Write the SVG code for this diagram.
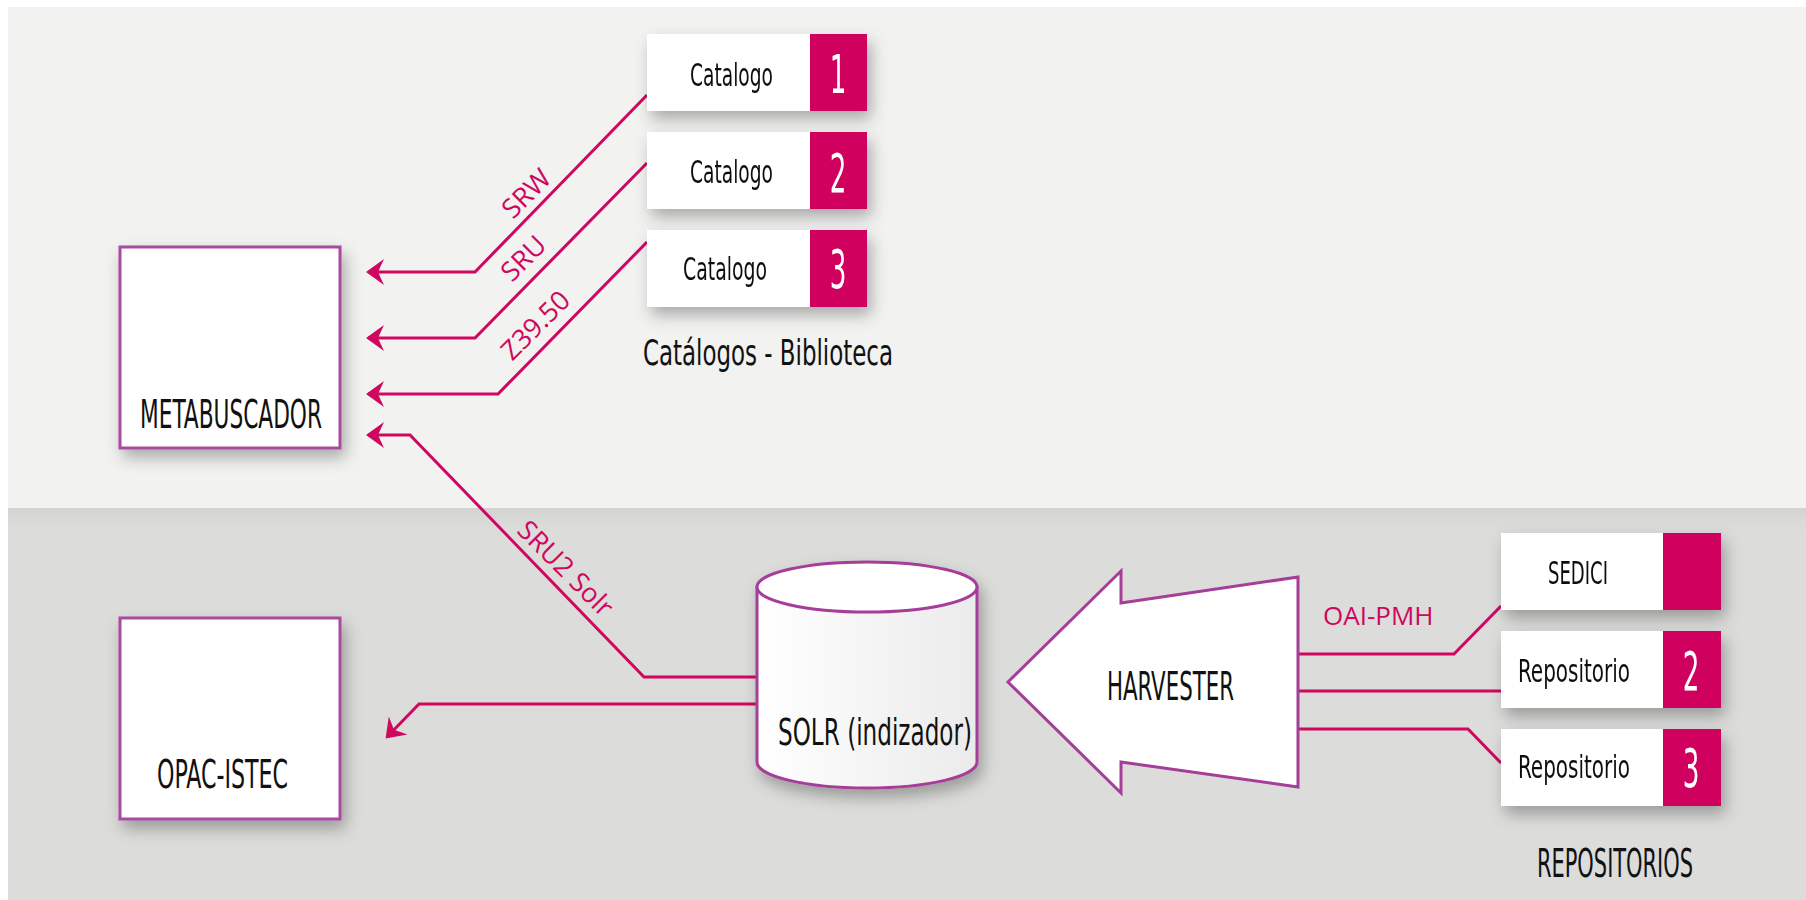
<svg xmlns="http://www.w3.org/2000/svg" width="1806" height="900" viewBox="0 0 1806 900">
  <defs>
    <style>
      .cond { font-family: 'Liberation Sans Narrow', 'DejaVu Sans Condensed', 'Liberation Sans', sans-serif; fill: #111111; }
      .num { font-family: 'Liberation Sans Narrow', 'DejaVu Sans Condensed', 'Liberation Sans', sans-serif; fill: #ffffff; font-size: 53px; text-anchor: middle; }
      .lbl { font-family: 'Open Sans', 'Liberation Sans', sans-serif; fill: #d0075f; font-size: 27px; }
      .conn { fill: none; stroke: #d0075f; stroke-width: 3; stroke-linejoin: miter; }
      .arrowed { marker-end: url(#arrow); }
      .box { fill: #ffffff; stroke: #a9489f; stroke-width: 3; }
      .white { fill: #ffffff; }
      .mag { fill: #d0005f; }
      .shape { stroke: #a63d98; stroke-width: 3; }
    </style>
    <filter id="shadow" x="-30%" y="-30%" width="160%" height="170%">
      <feDropShadow dx="4" dy="8" stdDeviation="8" flood-color="#000000" flood-opacity="0.3"/>
    </filter>
    <linearGradient id="cyl" x1="0" y1="0" x2="1" y2="0">
      <stop offset="0" stop-color="#ffffff"/>
      <stop offset="1" stop-color="#ebebeb"/>
    </linearGradient>
    <linearGradient id="bandShade" x1="0" y1="0" x2="0" y2="1">
      <stop offset="0" stop-color="#d2d2d1"/>
      <stop offset="1" stop-color="#dcdcdb" stop-opacity="0"/>
    </linearGradient>
    <marker id="arrow" viewBox="-20 -15 24 30" refX="0" refY="0" markerWidth="24" markerHeight="30" markerUnits="userSpaceOnUse" orient="auto">
      <path d="M 2 0 L -16 -13 L -10 0 L -16 13 Z" fill="#d0075f"/>
    </marker>
  </defs>

  <!-- background bands -->
  <rect x="0" y="0" width="1806" height="900" fill="#ffffff"/>
  <rect x="8" y="7" width="1798" height="501" fill="#f2f2f1"/>
  <rect x="8" y="508" width="1798" height="392" fill="#dcdcdb"/>
  <rect x="8" y="508" width="1798" height="30" fill="url(#bandShade)"/>

  <!-- connectors -->
  <g id="connectors">
    <path class="conn arrowed" d="M 647 95 L 475 272 L 368 272"/>
    <path class="conn arrowed" d="M 647 163 L 475 338 L 368 338"/>
    <path class="conn arrowed" d="M 647 242 L 498 394 L 368 394"/>
    <path class="conn arrowed" d="M 757 677 L 644 677 L 410 435 L 368 435"/>
    <path class="conn arrowed" d="M 757 704 L 419 704 L 387 737"/>
    <path class="conn" d="M 1298 654 L 1454 654 L 1501 606"/>
    <path class="conn" d="M 1298 691 L 1501 691"/>
    <path class="conn" d="M 1298 729 L 1468 729 L 1501 763"/>
    <text class="lbl" text-anchor="middle" transform="translate(533,200) rotate(-45)">SRW</text>
    <text class="lbl" text-anchor="middle" transform="translate(530,265) rotate(-45)">SRU</text>
    <text class="lbl" text-anchor="middle" transform="translate(542,332) rotate(-45)">Z39.50</text>
    <text class="lbl" text-anchor="middle" transform="translate(559,575) rotate(45)">SRU2 Solr</text>
    <text class="lbl" x="1323" y="625" style="font-size:26px">OAI-PMH</text>
  </g>

  <!-- catalog nodes -->
  <g id="catalogo1" filter="url(#shadow)">
    <rect class="white" x="647" y="34" width="163" height="77"/>
    <rect class="mag" x="810" y="34" width="57" height="77"/>
    <text class="cond" x="690" y="86" font-size="32" textLength="83" lengthAdjust="spacingAndGlyphs">Catalogo</text>
    <text class="num" transform="translate(838,93) scale(0.55,1)">1</text>
  </g>
  <g id="catalogo2" filter="url(#shadow)">
    <rect class="white" x="647" y="132" width="163" height="77"/>
    <rect class="mag" x="810" y="132" width="57" height="77"/>
    <text class="cond" x="690" y="183" font-size="32" textLength="83" lengthAdjust="spacingAndGlyphs">Catalogo</text>
    <text class="num" transform="translate(838,192) scale(0.55,1)">2</text>
  </g>
  <g id="catalogo3" filter="url(#shadow)">
    <rect class="white" x="647" y="230" width="163" height="77"/>
    <rect class="mag" x="810" y="230" width="57" height="77"/>
    <text class="cond" x="683" y="280" font-size="32" textLength="84" lengthAdjust="spacingAndGlyphs">Catalogo</text>
    <text class="num" transform="translate(838,288) scale(0.55,1)">3</text>
  </g>
  <g id="catalogos-label">
    <text class="cond" x="643" y="365" font-size="35" textLength="250" lengthAdjust="spacingAndGlyphs">Catálogos - Biblioteca</text>
  </g>

  <!-- metabuscador -->
  <g id="metabuscador">
    <rect class="box" x="120" y="247" width="220" height="201" filter="url(#shadow)"/>
    <text class="cond" x="140" y="428" font-size="39" textLength="182" lengthAdjust="spacingAndGlyphs">METABUSCADOR</text>
  </g>

  <!-- opac -->
  <g id="opac-istec">
    <rect class="box" x="120" y="618" width="220" height="201" filter="url(#shadow)"/>
    <text class="cond" x="157" y="788" font-size="39" textLength="131" lengthAdjust="spacingAndGlyphs">OPAC-ISTEC</text>
  </g>

  <!-- solr cylinder -->
  <g id="solr">
    <g filter="url(#shadow)">
      <path class="shape" fill="url(#cyl)" d="M 757 587 L 757 762 A 110 26 0 0 0 977 762 L 977 587 Z"/>
      <ellipse class="shape" fill="#ffffff" cx="867" cy="587" rx="110" ry="25"/>
    </g>
    <text class="cond" x="778" y="745" font-size="38" textLength="194" lengthAdjust="spacingAndGlyphs">SOLR (indizador)</text>
  </g>

  <!-- harvester -->
  <g id="harvester">
    <polygon class="shape" fill="#ffffff" points="1008,682 1121,571 1121,603 1298,577 1298,787 1121,762 1121,793"/>
    <text class="cond" x="1107" y="700" font-size="39" textLength="127" lengthAdjust="spacingAndGlyphs">HARVESTER</text>
  </g>

  <!-- repositories -->
  <g id="sedici" filter="url(#shadow)">
    <rect class="white" x="1501" y="533" width="162" height="77"/>
    <rect class="mag" x="1663" y="533" width="58" height="77"/>
    <text class="cond" x="1548" y="584" font-size="32" textLength="60" lengthAdjust="spacingAndGlyphs">SEDICI</text>
  </g>
  <g id="repositorio2" filter="url(#shadow)">
    <rect class="white" x="1501" y="631" width="162" height="77"/>
    <rect class="mag" x="1663" y="631" width="58" height="77"/>
    <text class="cond" x="1518" y="682" font-size="32" textLength="112" lengthAdjust="spacingAndGlyphs">Repositorio</text>
    <text class="num" transform="translate(1691,690) scale(0.55,1)">2</text>
  </g>
  <g id="repositorio3" filter="url(#shadow)">
    <rect class="white" x="1501" y="729" width="162" height="77"/>
    <rect class="mag" x="1663" y="729" width="58" height="77"/>
    <text class="cond" x="1518" y="778" font-size="32" textLength="112" lengthAdjust="spacingAndGlyphs">Repositorio</text>
    <text class="num" transform="translate(1691,787) scale(0.55,1)">3</text>
  </g>
  <g id="repositorios-label">
    <text class="cond" x="1537" y="877" font-size="39" textLength="156" lengthAdjust="spacingAndGlyphs">REPOSITORIOS</text>
  </g>
</svg>
